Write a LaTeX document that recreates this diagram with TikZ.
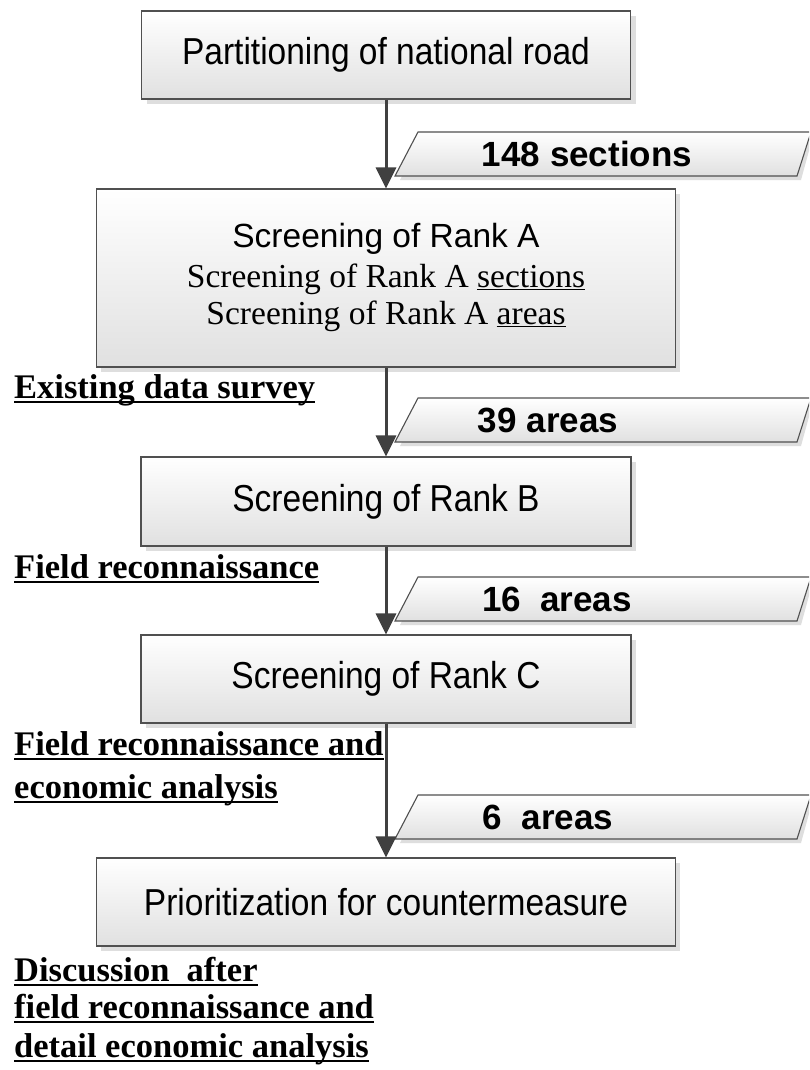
\documentclass[tikz,border=0pt]{standalone}
\usepackage{fontspec}
\setmainfont{Liberation Serif}
\setsansfont{Liberation Sans}
\usetikzlibrary{arrows.meta,shadows,calc}
\definecolor{edge}{HTML}{505050}
\definecolor{arrowc}{HTML}{404040}
\newcommand{\tallbox}[1]{\scalebox{1}[1.12]{#1}}
\tikzset{
  x=1pt,y=-1pt,
  boxshadow/.style={fill=black!13,draw=none},
  flowbox/.style={draw=edge,line width=1.1pt,top color=white,bottom color=black!12,
    inner sep=0pt,anchor=center,
    font=\fontsize{33.5}{40}\selectfont\sffamily},
  boxline/.style={inner sep=0pt,anchor=base},
  countbox/.style={draw=edge,line width=1.1pt,top color=white,bottom color=black!12},
  counttext/.style={inner sep=0pt,font=\fontsize{35}{40}\selectfont\sffamily\bfseries},
  sidelabel/.style={inner sep=0pt,anchor=base west,font=\fontsize{34.5}{40}\selectfont\rmfamily\bfseries},
  ulinestyle/.style={line width=2.4pt,black},
  flowarrow/.style={draw=arrowc,line width=3pt,-{Triangle[width=20pt,length=21pt]}}
}
\newcommand{\ulnode}[1]{\draw[ulinestyle] ([yshift=-4pt]#1.base west) -- ([yshift=-4pt]#1.base east);}
\begin{document}
\begin{tikzpicture}
\useasboundingbox (0,0) rectangle (809,1070);
\clip (0,0) rectangle (809,1070);
\fill[white] (0,0) rectangle (809,1070);

% shadows of boxes
\fill[boxshadow] (147,16) rectangle (636,104);
\fill[boxshadow] (101,194) rectangle (680,372);
\fill[boxshadow] (146,462) rectangle (636,551);
\fill[boxshadow] (146,640) rectangle (636,728);
\fill[boxshadow] (101,863) rectangle (680,951);

% boxes
\node[flowbox,minimum width=489pt,minimum height=88pt] (b1) at (386,55) {\tallbox{Partitioning of national road}};
\node[flowbox,minimum width=579pt,minimum height=178pt] (b2) at (386,278) {};
\node[boxline,font=\fontsize{33.5}{40}\selectfont\sffamily] (b2a) at (386,247) {Screening of Rank A};
\node[boxline,font=\fontsize{33.5}{40}\selectfont\rmfamily] (b2b) at (386,287) {Screening of Rank A \underline{sections}};
\node[boxline,font=\fontsize{33.5}{40}\selectfont\rmfamily] (b2c) at (386,324) {Screening of Rank A \underline{areas}};
\node[flowbox,minimum width=490pt,minimum height=89pt] (b3) at (386,501.5) {\tallbox{Screening of Rank B}};
\node[flowbox,minimum width=490pt,minimum height=88pt] (b4) at (386,679) {\tallbox{Screening of Rank C}};
\node[flowbox,minimum width=579pt,minimum height=88pt] (b5) at (386,902) {\tallbox{Prioritization for countermeasure}};

% count parallelograms
\foreach \t in {132,398,577,795}{
  \fill[boxshadow] (422,\t+4) -- (813,\t+4) -- (801,\t+48) -- (400,\t+48) -- cycle;
  \shadedraw[countbox] (418,\t) -- (811,\t) -- (797,\t+44) -- (395,\t+44) -- cycle;
}
\node[counttext] (c1) at (587,154) {148 sections};
\node[counttext] (c2) at (548,420) {39 areas};
\node[counttext] (c3) at (557,599) {16\ \ areas};
\node[counttext] (c4) at (548,817) {6\ \ areas};

% arrows
\draw[flowarrow] (b1.south) -- (b2.north);
\draw[flowarrow] (b2.south) -- (b3.north);
\draw[flowarrow] (b3.south) -- (b4.north);
\draw[flowarrow] (b4.south) -- (b5.north);

% side labels
\node[sidelabel] (l1) at (14,398) {Existing data survey}; \ulnode{l1}
\node[sidelabel] (l2) at (14,578) {Field reconnaissance}; \ulnode{l2}
\node[sidelabel] (l3) at (14,755) {Field reconnaissance and}; \ulnode{l3}
\node[sidelabel] (l4) at (14,798) {economic analysis}; \ulnode{l4}
\node[sidelabel] (l5) at (14,981) {Discussion\ \ after}; \ulnode{l5}
\node[sidelabel] (l6) at (14,1018) {field reconnaissance and}; \ulnode{l6}
\node[sidelabel] (l7) at (14,1057) {detail economic analysis}; \ulnode{l7}
\end{tikzpicture}
\end{document}
